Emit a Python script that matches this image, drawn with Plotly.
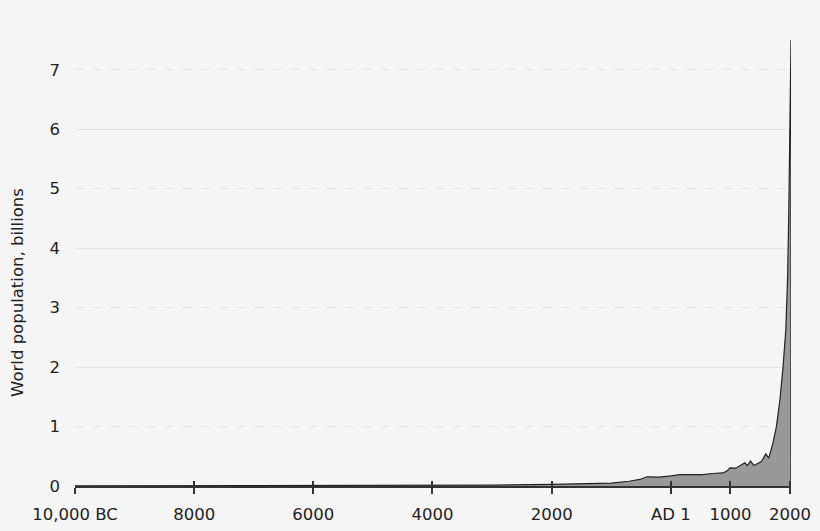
import plotly.graph_objects as go

# world population estimates, billions (year < 0 means BC)
years = [-10000, -8000, -6000, -5000, -4000, -3000, -2000, -1000, -700, -520, -400,
         -200, 1, 150, 400, 537, 700, 878, 950, 990, 1090, 1150, 1242, 1285, 1337,
         1393, 1450, 1522, 1594, 1644, 1716, 1772, 1829, 1884, 1930,
         1960, 1980, 2000, 2017]
population = [0.004, 0.005, 0.005, 0.006, 0.007, 0.014, 0.027, 0.05, 0.08, 0.11, 0.155,
              0.15, 0.17, 0.19, 0.19, 0.19, 0.21, 0.22, 0.26, 0.306, 0.30, 0.33, 0.39, 0.345, 0.42,
              0.345, 0.37, 0.41, 0.54, 0.47, 0.73, 1.0, 1.43, 2.0, 2.63,
              3.5, 4.6, 6.2, 7.5]

x_ticks = [-10000, -8000, -6000, -4000, -2000, 1, 1000, 2000]
x_labels = ["10,000 BC", "8000", "6000", "4000", "2000", "AD 1", "1000", "2000"]
y_ticks = [0, 1, 2, 3, 4, 5, 6, 7]
solid_grid = [2, 4, 6]
dashed_grid = [1, 3, 5, 7]

bg = "#f5f5f5"
grid = "#e4e4e4"
ink = "#222222"
axis_ink = "#333333"

fig = go.Figure()
fig.add_trace(go.Scatter(
    x=years + [years[-1]], y=population + [0],
    mode="lines", fill="tozeroy", fillcolor="#999999",
    line=dict(color=ink, width=1.2), hoverinfo="skip", showlegend=False,
))
# empty traces so the helper axes (grids, inner tick halves) get drawn
for xa, ya in [("x", "y2"), ("x", "y3"), ("x2", "y")]:
    fig.add_trace(go.Scatter(x=[None], y=[None], xaxis=xa, yaxis=ya,
                             showlegend=False, hoverinfo="skip"))

# y title sits a bit below the middle in the original, so use an annotation
fig.add_annotation(
    text="World population, billions", textangle=-90,
    xref="paper", yref="paper", x=0, y=0.433, xanchor="center", yanchor="middle",
    xshift=-57, showarrow=False, font=dict(size=16.5, color=ink),
)

fig.update_layout(
    width=820, height=531,
    margin=dict(l=75, r=29, t=40, b=45),
    paper_bgcolor=bg, plot_bgcolor=bg,
    font=dict(family="DejaVu Sans", size=16.5, color=ink),
    xaxis=dict(
        range=[-10000, 2017], tickvals=x_ticks, ticktext=x_labels, automargin=False,
        showgrid=False, zeroline=False, showline=True, linecolor=axis_ink, linewidth=1.5,
        ticks="outside", ticklen=6, tickwidth=1.5, tickcolor=axis_ink, ticklabelstandoff=6,
    ),
    xaxis2=dict(
        overlaying="x", matches="x", anchor="y", side="bottom", tickvals=x_ticks,
        showticklabels=False, showgrid=False, zeroline=False, showline=False,
        ticks="inside", ticklen=5, tickwidth=1.5, tickcolor=axis_ink, automargin=False,
    ),
    yaxis=dict(
        range=[0, 7.5], tickvals=y_ticks, showgrid=False, zeroline=False, automargin=False,
        showline=False, ticks="", ticklabelstandoff=14,
    ),
    yaxis2=dict(
        overlaying="y", matches="y", tickvals=solid_grid, showticklabels=False,
        showgrid=True, gridcolor=grid, gridwidth=1, zeroline=False, ticks="",
        layer="below traces", automargin=False,
    ),
    yaxis3=dict(
        overlaying="y", matches="y", tickvals=dashed_grid, showticklabels=False,
        showgrid=True, gridcolor=grid, gridwidth=1, griddash="dash", zeroline=False, ticks="",
        layer="below traces", automargin=False,
    ),
)

fig.write_html("out.html", config={"displayModeBar": False},
               post_script="document.body.style.margin='0';")
